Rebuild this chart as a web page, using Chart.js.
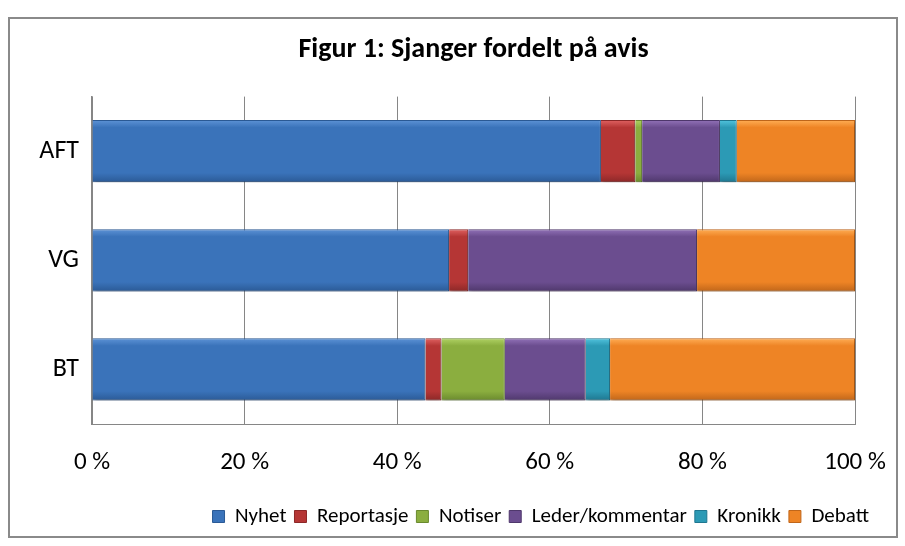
<!DOCTYPE html>
<html>
<head>
<meta charset="utf-8">
<script src="https://cdn.jsdelivr.net/npm/chart.js@4"></script>
<style>
html,body{margin:0;padding:0;background:#fff;}
#wrap{position:relative;width:905px;height:546px;}
</style>
</head>
<body>
<div id="wrap"><canvas id="c" width="905" height="546"></canvas></div>
<script>
const categories = ['AFT', 'VG', 'BT'];
const nyhet      = [66.7, 46.8, 43.7];
const reportasje = [4.5, 2.5, 2.1];
const notiser    = [0.9, 0, 8.3];
const leder      = [10.2, 30.0, 10.6];
const kronikk    = [2.2, 0, 3.2];
const debatt     = [15.5, 20.7, 32.1];
const seriesNames = ['Nyhet', 'Reportasje', 'Notiser', 'Leder/kommentar', 'Kronikk', 'Debatt'];
const seriesValues = [nyhet, reportasje, notiser, leder, kronikk, debatt];
const tickValues = [0, 20, 40, 60, 80, 100];
const tickLabels = ['0 %', '20 %', '40 %', '60 %', '80 %', '100 %'];

const fills   = ['#3a73ba', '#b53635', '#8bae3f', '#6b4d8f', '#2c9ab5', '#ee8425'];
const lights  = ['#5d93d6', '#e06262', '#b0d264', '#9272b8', '#52c4de', '#ffae55'];
const darks   = ['#2b5a96', '#8c2828', '#6a8a2e', '#4f386c', '#1f7790', '#c0661a'];

const FONT = "Carlito, Lato, 'Open Sans', sans-serif";
const BAR_PCT = 0.57;

function barFill(i) {
  return (ctx) => {
    const chart = ctx.chart;
    const ys = chart.scales && chart.scales.y;
    if (!chart.chartArea || !ys || ctx.type !== 'data') return fills[i];
    const band = ys.getPixelForValue(1) - ys.getPixelForValue(0);
    const c = ys.getPixelForValue(ctx.dataIndex);
    const h = Math.abs(band) * BAR_PCT;
    const g = chart.ctx.createLinearGradient(0, c - h / 2, 0, c + h / 2);
    g.addColorStop(0, lights[i]);
    g.addColorStop(0.12, fills[i]);
    g.addColorStop(0.85, fills[i]);
    g.addColorStop(1, darks[i]);
    return g;
  };
}

const frame = {
  id: 'frame',
  afterDraw(chart) {
    const ctx = chart.ctx;
    ctx.save();
    ctx.strokeStyle = '#8a8a8a';
    ctx.lineWidth = 2;
    ctx.strokeRect(9, 18, 888, 519);
    ctx.restore();
  }
};
const shadow = {
  id: 'shadow',
  beforeDatasetsDraw(chart) {
    const ctx = chart.ctx;
    ctx.save();
    ctx.shadowColor = 'rgba(0,0,0,0.3)';
    ctx.shadowBlur = 4;
    ctx.shadowOffsetX = 1;
    ctx.shadowOffsetY = 3;
  },
  afterDatasetsDraw(chart) {
    chart.ctx.restore();
  }
};

new Chart(document.getElementById('c'), {
  type: 'bar',
  data: {
    labels: categories,
    datasets: seriesNames.map((name, i) => ({
      label: name,
      data: seriesValues[i],
      backgroundColor: barFill(i),
      borderColor: darks[i],
      borderWidth: 1,
      barPercentage: BAR_PCT,
      categoryPercentage: 1.0
    }))
  },
  options: {
    indexAxis: 'y',
    responsive: false,
    animation: false,
    layout: { padding: { top: 17, left: 0, right: 28, bottom: 9 } },
    scales: {
      x: {
        stacked: true,
        min: 0,
        max: 100,
        afterBuildTicks(scale) { scale.ticks = tickValues.map(v => ({ value: v })); },
        afterFit(scale) { scale.height = 74; scale.paddingLeft = 0; scale.paddingRight = 0; },
        grid: { color: '#868686', lineWidth: 1, drawTicks: false },
        border: { display: true, color: '#868686', width: 1 },
        ticks: {
          padding: 24,
          color: '#000',
          font: { family: FONT, size: 25 },
          callback(v) { const k = tickValues.indexOf(v); return k >= 0 ? tickLabels[k] : ''; }
        }
      },
      y: {
        stacked: true,
        afterFit(scale) { scale.width = 92; },
        grid: { display: false, drawTicks: false },
        border: { display: true, color: '#868686', width: 1.5 },
        ticks: { padding: 13, color: '#000', font: { family: FONT, size: 26 } }
      },
      yr: {
        position: 'right',
        display: true,
        afterFit(scale) { scale.width = 22; },
        grid: { display: false, drawTicks: false },
        border: { display: false },
        ticks: { display: false }
      }
    },
    plugins: {
      title: {
        display: true,
        fullSize: false,
        text: 'Figur 1: Sjanger fordelt på avis',
        color: '#000',
        font: { family: FONT, size: 28, weight: 'bold' },
        padding: { top: 16, bottom: 30 }
      },
      legend: {
        position: 'bottom',
        align: 'end',
        labels: {
          color: '#000',
          boxWidth: 12,
          boxHeight: 12,
          padding: 8,
          font: { family: FONT, size: 21 },
          generateLabels(chart) {
            return chart.data.datasets.map((ds, i) => ({
              text: ds.label,
              fillStyle: fills[i],
              strokeStyle: darks[i],
              lineWidth: 1,
              fontColor: '#000',
              hidden: false,
              datasetIndex: i
            }));
          }
        }
      },
      tooltip: { enabled: false }
    }
  },
  plugins: [shadow, frame]
});
</script>
</body>
</html>
